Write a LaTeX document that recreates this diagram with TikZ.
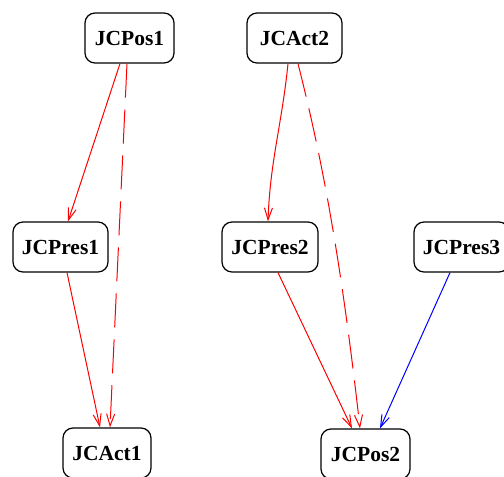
\documentclass[tikz,border=0pt]{standalone}
\usepackage{fontspec}
\setmainfont{Liberation Serif}
\usetikzlibrary{arrows.meta}
\tikzset{
  box/.style={draw=black, line width=1.2pt, rounded corners=10pt, inner sep=0pt,
    minimum height=50pt, font=\fontsize{21.5}{24}\selectfont\bfseries},
  edge/.style={line width=1pt, -{Straight Barb[length=12pt,width=8pt,line width=1pt]}},
  redline/.style={edge, draw={rgb,255:red,255;green,0;blue,0}},
  blueline/.style={edge, draw={rgb,255:red,0;green,0;blue,255}},
  dashline/.style={dash pattern=on 34pt off 12pt}
}
\begin{document}
\begin{tikzpicture}[x=1pt,y=-1pt]
\useasboundingbox (0,0) rectangle (504,477);
\clip (0,0) rectangle (504,477);
\node[box, minimum width=89pt] (pos1) at (129.5,38) {JCPos1};
\node[box, minimum width=95pt] (act2) at (294.5,38) {JCAct2};
\node[box, minimum width=95pt] (pres1) at (60.5,247) {JCPres1};
\node[box, minimum width=96pt] (pres2) at (270,247) {JCPres2};
\node[box, minimum width=95pt] (pres3) at (461.5,247) {JCPres3};
\node[box, minimum width=88pt] (act1) at (107,453) {JCAct1};
\node[box, minimum width=89pt] (pos2) at (365.5,454) {JCPos2};

\draw[redline] ([xshift=-9.5pt]pos1.south) -- ([xshift=7.5pt]pres1.north);
\draw[redline, dashline] ([xshift=-2.5pt]pos1.south) -- ([xshift=3pt]act1.north);
\draw[redline] ([xshift=6.5pt]pres1.south) -- ([xshift=-7pt]act1.north);
\draw[redline] ([xshift=-6.5pt]act2.south) .. controls +(-6,60) and +(2,-60) .. ([xshift=-2pt]pres2.north);
\draw[redline, dashline] ([xshift=3.5pt]act2.south) .. controls +(22,87) and +(-20,-179) .. ([xshift=-5.5pt]pos2.north);
\draw[redline] ([xshift=8pt]pres2.south) -- ([xshift=-13.5pt]pos2.north);
\draw[blueline] ([xshift=-11.5pt]pres3.south) -- ([xshift=14.5pt]pos2.north);
\end{tikzpicture}
\end{document}
